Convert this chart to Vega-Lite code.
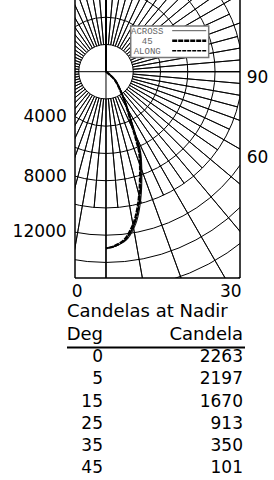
{
  "$schema": "https://vega.github.io/schema/vega-lite/v6.json",
  "width": 165,
  "height": 278,
  "autosize": "none",
  "padding": {"left": 75, "top": 0, "right": 34, "bottom": 202},
  "background": "white",
  "config": {
    "view": {"stroke": null},
    "axis": {"disable": true},
    "legend": {"disable": true},
    "text": {"font": "DejaVu Sans", "fontSize": 17, "color": "black"}
  },
  "resolve": {"scale": {"x": "independent", "y": "independent"}},
  "layer": [
    {
      "layer": [
        {
          "data": {"values": [{"r": 2000}, {"r": 4000}, {"r": 6000}, {"r": 8000}, {"r": 10000}, {"r": 12000}, {"r": 14000}, {"r": 16000}, {"r": 18000}, {"r": 20000}]},
          "mark": {"type": "arc", "filled": false, "stroke": "black", "strokeWidth": 1, "clip": true, "theta": 0, "theta2": 6.2831853},
          "encoding": {
            "x": {"datum": 0, "type": "quantitative", "scale": {"domain": [-2275, 9835], "nice": false, "zero": false}},
            "y": {"datum": 0, "type": "quantitative", "scale": {"domain": [-5262, 15141], "reverse": true, "nice": false, "zero": false}},
            "radius": {"field": "r", "type": "quantitative", "scale": {"type": "linear", "domain": [0, 20000], "range": [0, 272.5], "zero": true}},
            "radius2": {"datum": 0}
          }
        },
        {
          "data": {"values": [{"a":0},{"a":10},{"a":20},{"a":30},{"a":40},{"a":50},{"a":60},{"a":70},{"a":80},{"a":90},{"a":100},{"a":110},{"a":120},{"a":130},{"a":140},{"a":150},{"a":160},{"a":170},{"a":180},{"a":190},{"a":200},{"a":210},{"a":220},{"a":230},{"a":240},{"a":250},{"a":260},{"a":270},{"a":280},{"a":290},{"a":300},{"a":310},{"a":320},{"a":330},{"a":340},{"a":350}]},
          "mark": {"type": "arc", "filled": false, "stroke": "black", "strokeWidth": 0.9, "clip": true},
          "encoding": {
            "x": {"datum": 0, "type": "quantitative", "scale": {"domain": [-2275, 9835], "nice": false, "zero": false}},
            "y": {"datum": 0, "type": "quantitative", "scale": {"domain": [-5262, 15141], "reverse": true, "nice": false, "zero": false}},
            "theta": {"field": "a", "type": "quantitative", "stack": null, "scale": {"type": "linear", "domain": [0, 360], "range": [0, 6.283185307179586]}},
            "theta2": {"field": "a"},
            "radius": {"datum": 30000, "type": "quantitative", "scale": {"type": "linear", "domain": [0, 20000], "range": [0, 272.5], "zero": true}},
            "radius2": {"datum": 2000}
          }
        },
        {
          "data": {"values": [{"a":5},{"a":15},{"a":25},{"a":35},{"a":45},{"a":55},{"a":65},{"a":75},{"a":85},{"a":95},{"a":105},{"a":115},{"a":125},{"a":135},{"a":145},{"a":155},{"a":165},{"a":175},{"a":185},{"a":195},{"a":205},{"a":215},{"a":225},{"a":235},{"a":245},{"a":255},{"a":265},{"a":275},{"a":285},{"a":295},{"a":305},{"a":315},{"a":325},{"a":335},{"a":345},{"a":355}]},
          "mark": {"type": "arc", "filled": false, "stroke": "black", "strokeWidth": 0.9, "clip": true},
          "encoding": {
            "x": {"datum": 0, "type": "quantitative", "scale": {"domain": [-2275, 9835], "nice": false, "zero": false}},
            "y": {"datum": 0, "type": "quantitative", "scale": {"domain": [-5262, 15141], "reverse": true, "nice": false, "zero": false}},
            "theta": {"field": "a", "type": "quantitative", "stack": null, "scale": {"type": "linear", "domain": [0, 360], "range": [0, 6.283185307179586]}},
            "theta2": {"field": "a"},
            "radius": {"datum": 10000, "type": "quantitative", "scale": {"type": "linear", "domain": [0, 20000], "range": [0, 272.5], "zero": true}},
            "radius2": {"datum": 2000}
          }
        },
        {
          "data": {"values": [{}]},
          "mark": {"type": "rule", "stroke": "black", "strokeWidth": 1},
          "encoding": {
            "x": {"datum": 0, "type": "quantitative", "scale": {"domain": [-2275, 9835], "nice": false, "zero": false}},
            "y": {"datum": -5262, "type": "quantitative", "scale": {"domain": [-5262, 15141], "reverse": true, "nice": false, "zero": false}},
            "y2": {"datum": 15141}
          }
        },
        {
          "data": {"values": [{}]},
          "mark": {"type": "rule", "stroke": "black", "strokeWidth": 1},
          "encoding": {
            "x": {"datum": -2275, "type": "quantitative", "scale": {"domain": [-2275, 9835], "nice": false, "zero": false}},
            "x2": {"datum": 9835},
            "y": {"datum": 0, "type": "quantitative", "scale": {"domain": [-5262, 15141], "reverse": true, "nice": false, "zero": false}}
          }
        },
        {
          "data": {"values": [{}]},
          "mark": {"type": "rect", "fill": "white", "stroke": "#777777", "strokeWidth": 1.5},
          "encoding": {
            "x": {"datum": 1813, "type": "quantitative", "scale": {"domain": [-2275, 9835], "nice": false, "zero": false}},
            "x2": {"datum": 7537},
            "y": {"datum": -3354, "type": "quantitative", "scale": {"domain": [-5262, 15141], "reverse": true, "nice": false, "zero": false}},
            "y2": {"datum": -1042}
          }
        },
        {
          "data": {"values": [{}]},
          "mark": {"type": "text", "font": "Liberation Mono", "fontSize": 9, "color": "#666666", "align": "center", "baseline": "middle", "text": "ACROSS"},
          "encoding": {
            "x": {"datum": 3024, "type": "quantitative", "scale": {"domain": [-2275, 9835], "nice": false, "zero": false}},
            "y": {"datum": -3009, "type": "quantitative", "scale": {"domain": [-5262, 15141], "reverse": true, "nice": false, "zero": false}}
          }
        },
        {
          "data": {"values": [{}]},
          "mark": {"type": "text", "font": "Liberation Mono", "fontSize": 9, "color": "#666666", "align": "center", "baseline": "middle", "text": "45"},
          "encoding": {
            "x": {"datum": 3024, "type": "quantitative", "scale": {"domain": [-2275, 9835], "nice": false, "zero": false}},
            "y": {"datum": -2275, "type": "quantitative", "scale": {"domain": [-5262, 15141], "reverse": true, "nice": false, "zero": false}}
          }
        },
        {
          "data": {"values": [{}]},
          "mark": {"type": "text", "font": "Liberation Mono", "fontSize": 9, "color": "#666666", "align": "center", "baseline": "middle", "text": "ALONG"},
          "encoding": {
            "x": {"datum": 3024, "type": "quantitative", "scale": {"domain": [-2275, 9835], "nice": false, "zero": false}},
            "y": {"datum": -1541, "type": "quantitative", "scale": {"domain": [-5262, 15141], "reverse": true, "nice": false, "zero": false}}
          }
        },
        {
          "data": {"values": [{}]},
          "mark": {"type": "rule", "stroke": "#555555", "strokeWidth": 1},
          "encoding": {
            "x": {"datum": 4859, "type": "quantitative", "scale": {"domain": [-2275, 9835], "nice": false, "zero": false}},
            "x2": {"datum": 7354},
            "y": {"datum": -3009, "type": "quantitative", "scale": {"domain": [-5262, 15141], "reverse": true, "nice": false, "zero": false}}
          }
        },
        {
          "data": {"values": [{}]},
          "mark": {"type": "rule", "stroke": "black", "strokeWidth": 2.5, "strokeDash": [5, 1]},
          "encoding": {
            "x": {"datum": 4859, "type": "quantitative", "scale": {"domain": [-2275, 9835], "nice": false, "zero": false}},
            "x2": {"datum": 7354},
            "y": {"datum": -2275, "type": "quantitative", "scale": {"domain": [-5262, 15141], "reverse": true, "nice": false, "zero": false}}
          }
        },
        {
          "data": {"values": [{}]},
          "mark": {"type": "rule", "stroke": "black", "strokeWidth": 1.5, "strokeDash": [4, 1]},
          "encoding": {
            "x": {"datum": 4859, "type": "quantitative", "scale": {"domain": [-2275, 9835], "nice": false, "zero": false}},
            "x2": {"datum": 7354},
            "y": {"datum": -1541, "type": "quantitative", "scale": {"domain": [-5262, 15141], "reverse": true, "nice": false, "zero": false}}
          }
        },
        {
          "data": {"values": [
            {"series": "ACROSS", "i": 0, "x": 0, "y": 0},
            {"series": "ACROSS", "i": 1, "x": 660, "y": 609},
            {"series": "ACROSS", "i": 2, "x": 1160, "y": 1585},
            {"series": "ACROSS", "i": 3, "x": 1540, "y": 2569},
            {"series": "ACROSS", "i": 4, "x": 1920, "y": 3787},
            {"series": "ACROSS", "i": 5, "x": 2300, "y": 5013},
            {"series": "ACROSS", "i": 6, "x": 2550, "y": 5989},
            {"series": "ACROSS", "i": 7, "x": 2630, "y": 7456},
            {"series": "ACROSS", "i": 8, "x": 2570, "y": 9174},
            {"series": "ACROSS", "i": 9, "x": 2340, "y": 10642},
            {"series": "ACROSS", "i": 10, "x": 1980, "y": 11618},
            {"series": "ACROSS", "i": 11, "x": 1480, "y": 12352},
            {"series": "ACROSS", "i": 12, "x": 720, "y": 12792},
            {"series": "ACROSS", "i": 13, "x": 0, "y": 12961},
            {"series": "45", "i": 0, "x": 0, "y": 0},
            {"series": "45", "i": 1, "x": 660, "y": 609},
            {"series": "45", "i": 2, "x": 1152, "y": 1585},
            {"series": "45", "i": 3, "x": 1519, "y": 2569},
            {"series": "45", "i": 4, "x": 1886, "y": 3787},
            {"series": "45", "i": 5, "x": 2253, "y": 5013},
            {"series": "45", "i": 6, "x": 2495, "y": 5989},
            {"series": "45", "i": 7, "x": 2569, "y": 7456},
            {"series": "45", "i": 8, "x": 2495, "y": 9174},
            {"series": "45", "i": 9, "x": 2253, "y": 10642},
            {"series": "45", "i": 10, "x": 1886, "y": 11618},
            {"series": "45", "i": 11, "x": 1394, "y": 12352},
            {"series": "45", "i": 12, "x": 660, "y": 12792},
            {"series": "45", "i": 13, "x": 0, "y": 12961},
            {"series": "ALONG", "i": 0, "x": 0, "y": 0},
            {"series": "ALONG", "i": 1, "x": 650, "y": 609},
            {"series": "ALONG", "i": 2, "x": 1140, "y": 1585},
            {"series": "ALONG", "i": 3, "x": 1500, "y": 2569},
            {"series": "ALONG", "i": 4, "x": 1860, "y": 3787},
            {"series": "ALONG", "i": 5, "x": 2210, "y": 5013},
            {"series": "ALONG", "i": 6, "x": 2440, "y": 5989},
            {"series": "ALONG", "i": 7, "x": 2500, "y": 7456},
            {"series": "ALONG", "i": 8, "x": 2420, "y": 9174},
            {"series": "ALONG", "i": 9, "x": 2170, "y": 10642},
            {"series": "ALONG", "i": 10, "x": 1800, "y": 11618},
            {"series": "ALONG", "i": 11, "x": 1320, "y": 12352},
            {"series": "ALONG", "i": 12, "x": 610, "y": 12800},
            {"series": "ALONG", "i": 13, "x": 0, "y": 12961}
          ]},
          "mark": {"type": "line", "interpolate": "cardinal", "clip": true},
          "encoding": {
            "x": {"field": "x", "type": "quantitative", "scale": {"domain": [-2275, 9835], "nice": false, "zero": false}},
            "y": {"field": "y", "type": "quantitative", "scale": {"domain": [-5262, 15141], "reverse": true, "nice": false, "zero": false}},
            "order": {"field": "i", "type": "quantitative"},
            "detail": {"field": "series", "type": "nominal"},
            "color": {"field": "series", "type": "nominal", "scale": {"domain": ["ACROSS", "45", "ALONG"], "range": ["#111111", "#000000", "#000000"]}},
            "strokeWidth": {"field": "series", "type": "nominal", "scale": {"domain": ["ACROSS", "45", "ALONG"], "range": [1.1, 2.2, 1.3]}},
            "strokeDash": {"field": "series", "type": "nominal", "scale": {"domain": ["ACROSS", "45", "ALONG"], "range": [[1, 0], [10, 1], [5, 1]]}}
          }
        },
        {
          "data": {"values": [{}]},
          "mark": {"type": "rule", "stroke": "black", "strokeWidth": 1.5},
          "encoding": {
            "x": {"datum": -2275, "type": "quantitative", "scale": {"domain": [-2275, 9835], "nice": false, "zero": false}},
            "y": {"datum": -5262, "type": "quantitative", "scale": {"domain": [-5262, 15141], "reverse": true, "nice": false, "zero": false}},
            "y2": {"datum": 15141}
          }
        },
        {
          "data": {"values": [{}]},
          "mark": {"type": "rule", "stroke": "black", "strokeWidth": 1.5},
          "encoding": {
            "x": {"datum": 9835, "type": "quantitative", "scale": {"domain": [-2275, 9835], "nice": false, "zero": false}},
            "y": {"datum": -5262, "type": "quantitative", "scale": {"domain": [-5262, 15141], "reverse": true, "nice": false, "zero": false}},
            "y2": {"datum": 15141}
          }
        },
        {
          "data": {"values": [{}]},
          "mark": {"type": "rule", "stroke": "black", "strokeWidth": 1.5},
          "encoding": {
            "x": {"datum": -2275, "type": "quantitative", "scale": {"domain": [-2275, 9835], "nice": false, "zero": false}},
            "x2": {"datum": 9835},
            "y": {"datum": 15141, "type": "quantitative", "scale": {"domain": [-5262, 15141], "reverse": true, "nice": false, "zero": false}}
          }
        },
        {
          "data": {"values": [{}]},
          "mark": {"type": "text", "align": "right", "baseline": "middle", "text": "4000"},
          "encoding": {
            "x": {"datum": -2884, "type": "quantitative", "scale": {"domain": [-2275, 9835], "nice": false, "zero": false}},
            "y": {"datum": 3325, "type": "quantitative", "scale": {"domain": [-5262, 15141], "reverse": true, "nice": false, "zero": false}}
          }
        },
        {
          "data": {"values": [{}]},
          "mark": {"type": "text", "align": "right", "baseline": "middle", "text": "8000"},
          "encoding": {
            "x": {"datum": -2884, "type": "quantitative", "scale": {"domain": [-2275, 9835], "nice": false, "zero": false}},
            "y": {"datum": 7692, "type": "quantitative", "scale": {"domain": [-5262, 15141], "reverse": true, "nice": false, "zero": false}}
          }
        },
        {
          "data": {"values": [{}]},
          "mark": {"type": "text", "align": "right", "baseline": "middle", "text": "12000"},
          "encoding": {
            "x": {"datum": -2884, "type": "quantitative", "scale": {"domain": [-2275, 9835], "nice": false, "zero": false}},
            "y": {"datum": 11765, "type": "quantitative", "scale": {"domain": [-5262, 15141], "reverse": true, "nice": false, "zero": false}}
          }
        },
        {
          "data": {"values": [{}]},
          "mark": {"type": "text", "align": "left", "baseline": "middle", "text": "90"},
          "encoding": {
            "x": {"datum": 10327, "type": "quantitative", "scale": {"domain": [-2275, 9835], "nice": false, "zero": false}},
            "y": {"datum": 463, "type": "quantitative", "scale": {"domain": [-5262, 15141], "reverse": true, "nice": false, "zero": false}}
          }
        },
        {
          "data": {"values": [{}]},
          "mark": {"type": "text", "align": "left", "baseline": "middle", "text": "60"},
          "encoding": {
            "x": {"datum": 10327, "type": "quantitative", "scale": {"domain": [-2275, 9835], "nice": false, "zero": false}},
            "y": {"datum": 6334, "type": "quantitative", "scale": {"domain": [-5262, 15141], "reverse": true, "nice": false, "zero": false}}
          }
        },
        {
          "data": {"values": [{}]},
          "mark": {"type": "text", "align": "center", "baseline": "middle", "text": "0"},
          "encoding": {
            "x": {"datum": -2114, "type": "quantitative", "scale": {"domain": [-2275, 9835], "nice": false, "zero": false}},
            "y": {"datum": 16132, "type": "quantitative", "scale": {"domain": [-5262, 15141], "reverse": true, "nice": false, "zero": false}}
          }
        },
        {
          "data": {"values": [{}]},
          "mark": {"type": "text", "align": "center", "baseline": "middle", "text": "30"},
          "encoding": {
            "x": {"datum": 9152, "type": "quantitative", "scale": {"domain": [-2275, 9835], "nice": false, "zero": false}},
            "y": {"datum": 16132, "type": "quantitative", "scale": {"domain": [-5262, 15141], "reverse": true, "nice": false, "zero": false}}
          }
        }
      ]
    },
    {
      "layer": [
        {
          "data": {"values": [{}]},
          "mark": {"type": "text", "align": "left", "baseline": "middle", "fontSize": 18, "dx": -36, "dy": -23, "text": "Candelas at Nadir"},
          "encoding": {
            "x": {"datum": "Deg", "type": "nominal", "scale": {"type": "point", "domain": ["Deg", "Candela"], "range": [28, 168], "padding": 0}},
            "y": {"datum": "hdr", "type": "nominal", "scale": {"type": "point", "domain": ["hdr", "0", "5", "15", "25", "35", "45"], "range": [335, 468], "padding": 0}}
          }
        },
        {
          "data": {"values": [{"h": "Deg"}, {"h": "Candela"}]},
          "mark": {"type": "text", "align": "right", "baseline": "middle", "fontSize": 18},
          "encoding": {
            "x": {"field": "h", "type": "nominal", "scale": {"type": "point", "domain": ["Deg", "Candela"], "range": [28, 168], "padding": 0}},
            "y": {"datum": "hdr", "type": "nominal", "scale": {"type": "point", "domain": ["hdr", "0", "5", "15", "25", "35", "45"], "range": [335, 468], "padding": 0}},
            "text": {"field": "h"}
          }
        },
        {
          "data": {"values": [{}]},
          "mark": {"type": "rule", "stroke": "black", "strokeWidth": 2, "xOffset": -36, "x2Offset": 2, "yOffset": 12.5},
          "encoding": {
            "x": {"datum": "Deg", "type": "nominal", "scale": {"type": "point", "domain": ["Deg", "Candela"], "range": [28, 168], "padding": 0}},
            "x2": {"datum": "Candela"},
            "y": {"datum": "hdr", "type": "nominal", "scale": {"type": "point", "domain": ["hdr", "0", "5", "15", "25", "35", "45"], "range": [335, 468], "padding": 0}}
          }
        },
        {
          "data": {"values": [
            {"Deg": "0", "Candela": "2263"},
            {"Deg": "5", "Candela": "2197"},
            {"Deg": "15", "Candela": "1670"},
            {"Deg": "25", "Candela": "913"},
            {"Deg": "35", "Candela": "350"},
            {"Deg": "45", "Candela": "101"}
          ]},
          "transform": [{"fold": ["Deg", "Candela"], "as": ["col", "val"]}],
          "mark": {"type": "text", "align": "right", "baseline": "middle", "fontSize": 17},
          "encoding": {
            "x": {"field": "col", "type": "nominal", "scale": {"type": "point", "domain": ["Deg", "Candela"], "range": [28, 168], "padding": 0}},
            "y": {"field": "Deg", "type": "nominal", "scale": {"type": "point", "domain": ["hdr", "0", "5", "15", "25", "35", "45"], "range": [335, 468], "padding": 0}},
            "text": {"field": "val"}
          }
        }
      ]
    }
  ]
}
